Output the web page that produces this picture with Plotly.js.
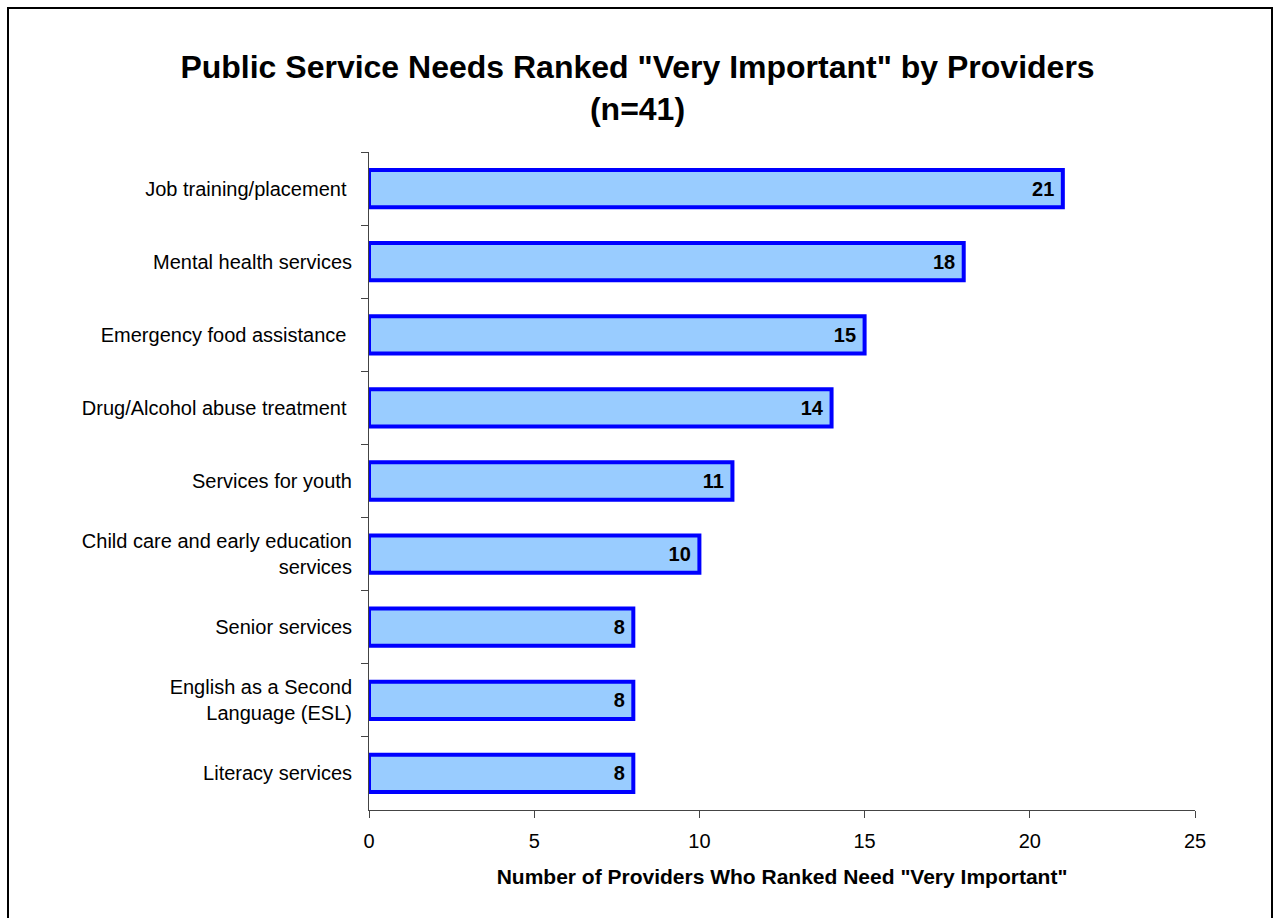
<!DOCTYPE html>
<html>
<head>
<meta charset="utf-8">
<script src="https://cdn.plot.ly/plotly-3.0.1.min.js"></script>
<style>
html, body { margin: 0; padding: 0; background: #fff; }
#chart { width: 1275px; height: 918px; }
</style>
</head>
<body>
<div id="chart"></div>
<script>
const categories = [
  "Job training/placement ",
  "Mental health services",
  "Emergency food assistance ",
  "Drug/Alcohol abuse treatment ",
  "Services for youth",
  "Child care and early education<br>services",
  "Senior services",
  "English as a Second<br>Language (ESL)",
  "Literacy services"
];
const values = [21, 18, 15, 14, 11, 10, 8, 8, 8];
const xTickValues = [0, 5, 10, 15, 20, 25];

const FONT = "Arial, 'Liberation Sans', sans-serif";

const trace = {
  type: "bar",
  orientation: "h",
  x: values,
  y: categories,
  marker: { color: "#99CCFF", line: { color: "#0000FF", width: 4 } },
  text: values.map(v => String(v) + "\u00a0"),
  textposition: "inside",
  insidetextanchor: "end",
  textangle: 0,
  insidetextfont: { family: FONT, size: 20, color: "#000", weight: "bold" },
  cliponaxis: false,
  hoverinfo: "skip"
};

const layout = {
  width: 1275,
  height: 918,
  paper_bgcolor: "#fff",
  plot_bgcolor: "#fff",
  margin: { l: 369, r: 80, t: 152, b: 108 },
  bargap: 0.49,
  showlegend: false,
  font: { family: FONT, color: "#000" },
  title: {
    text: "<b>Public Service Needs Ranked \"Very Important\" by Providers<br>(n=41)</b>",
    font: { family: FONT, size: 32, color: "#000" },
    x: 0.5, xref: "container", xanchor: "center",
    y: 1 - 78 / 918, yref: "container", yanchor: "middle"
  },
  xaxis: {
    range: [0, 25],
    tickvals: xTickValues,
    ticktext: xTickValues.map(String),
    ticks: "outside", ticklen: 7, tickwidth: 1, tickcolor: "#444",
    showline: true, linecolor: "#444", linewidth: 1,
    showgrid: false, zeroline: false,
    tickfont: { family: FONT, size: 20, color: "#000" },
    ticklabelstandoff: 6,
    title: {
      text: "<b>Number of Providers Who Ranked Need \"Very Important\"</b>",
      font: { family: FONT, size: 21, color: "#000" },
      standoff: 18
    },
    fixedrange: true
  },
  yaxis: {
    type: "category",
    autorange: "reversed",
    tickson: "boundaries",
    ticks: "outside", ticklen: 7, tickwidth: 1, tickcolor: "#444",
    showline: true, linecolor: "#444", linewidth: 1,
    showgrid: false, zeroline: false,
    tickfont: { family: FONT, size: 20, color: "#000" },
    ticklabelstandoff: 12,
    fixedrange: true
  },
  shapes: [{
    type: "rect", xref: "paper", yref: "paper",
    x0: (8 - 369) / 826, x1: (1272 - 369) / 826,
    y0: -0.3, y1: (810 - 8) / 658,
    line: { color: "#000", width: 2 }, fillcolor: "rgba(0,0,0,0)", layer: "below"
  }]
};

Plotly.newPlot("chart", [trace], layout, { displayModeBar: false, staticPlot: true });
</script>
</body>
</html>
